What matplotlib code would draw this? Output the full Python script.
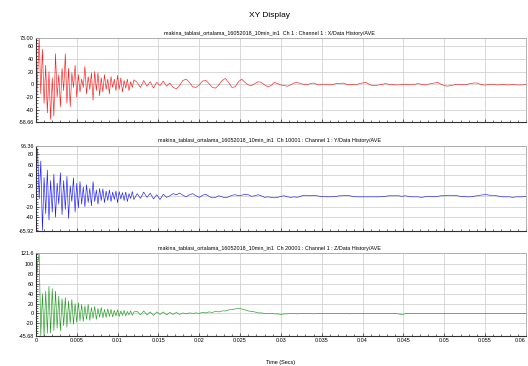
import numpy as np
import matplotlib
matplotlib.use("Agg")
import matplotlib.pyplot as plt
from matplotlib.ticker import MultipleLocator

plt.rcParams['font.family'] = ['Liberation Sans', 'DejaVu Sans']

# sample times: fine step at the start, coarser after 0.012 s
t_fast = np.arange(61) * 0.0002
t_slow = 0.0124 + np.arange(120) * 0.0004
time = np.concatenate([t_fast, t_slow])

# X channel (red)
x_fast = [-48, 10, 73, -15, 55, -30, 30, -45, 20, -55,
          10, -50, 48, -20, 15, -35, 25, -10, 48, -30,
          25, -35, 18, -5, 30, -20, 15, -12, 8, -5,
          28, -15, 12, -8, 18, -25, 20, -10, 18, -18,
          10, -12, 15, -8, 8, -15, 12, -5, 8, -10,
          14, -8, 10, -12, 6, -6, 8, -10, 4, -5, 7]
x_slow = [3, -5, 6, -3, 4, -6, 3, -2, 5, -3,
          2, -5, -7, -2, 6, 8, 3, -4, -5, -1,
          5, 6, 1, -5, -6, -1, 6, 9, 3, -5,
          -4, 4, 8, 3, -1, -2, 1, 4, 3, -1,
          -4, -2, 3, 1, -1, -2, -3, -1, 2, 3,
          1, 0, -1, 1, 2, 0, -1, 0, 0, -1,
          0, 1, 1, 2, 0, -1, 0, -1, 1, 2,
          3, 0, -2, -2, -1, 0, 1, 0, 0, -1,
          -1, 0, 0, -1, 0, 0, 1, 0, -1, 0,
          1, 2, 3, 0, -2, -3, -2, -1, 0, 0,
          -1, 0, 1, 2, 2, 0, -1, -1, 0, 0,
          -1, -1, 0, -1, -1, 0, -1, -1, -1, 0]

# Y channel (blue)
y_fast = [85, 90, -5, 67, -65, 36, -33, 50, -45, 30,
          -30, 42, -40, 25, -15, 45, -35, 30, -25, 38,
          -42, 20, -10, 35, -30, 25, -22, 28, -15, 18,
          -20, 22, -12, 15, -18, 28, -10, 12, -15, 15,
          -8, 14, -12, 10, -8, 12, -10, 8, -6, 10,
          -12, 9, -5, 7, -8, 8, -10, 5, -4, 9, -6]
y_slow = [5, -4, 8, -2, 6, -5, 3, -6, 4, -2,
          1, 5, 3, 6, 2, -1, 3, 5, 1, -2,
          2, 4, 0, -3, -2, 1, -1, -3, -1, 2,
          3, 1, 2, 4, 3, 0, 1, 3, 1, -2,
          -1, -2, -3, -2, 0, 1, -1, -2, -1, -2,
          0, 2, 2, 1, 2, 1, 0, 0, -1, -1,
          0, 0, 1, 1, 2, 1, 0, -1, -1, -1,
          -1, -1, -1, -1, -1, 0, 0, 1, 1, 1,
          1, 0, 1, 0, -1, -1, -1, -2, -1, 0,
          0, -1, 0, 1, 1, 2, 2, 2, 1, 0,
          0, -1, -1, 0, 1, 2, 3, 3, 2, 2,
          1, 0, -1, -1, -1, -2, -1, -1, -1, 0]

# Z channel (green)
z_fast = [40, 100, 121, -45, 40, -45, 45, -40, 55, -40,
          50, -35, 45, -30, 35, -35, 30, -25, 32, -28,
          25, -20, 28, -22, 20, -18, 22, -15, 18, -16,
          15, -12, 18, -14, 12, -10, 14, -12, 10, -8,
          12, -9, 8, -8, 9, -6, 8, -7, 6, -5,
          7, -6, 5, -4, 6, -5, 4, -3, 5, -4, 3]
z_slow = [4, -3, 5, -3, 3, -4, 3, -2, 3, -3,
          2, -2, 2, -2, 1, -1, 1, 0, 1, 0,
          2, 1, 3, 2, 4, 3, 5, 5, 7, 8,
          9, 10, 9, 7, 5, 4, 3, 1, 1, 0,
          0, 0, -1, -1, -2, -1, -1, 0, 0, -1,
          0, 0, 0, 0, -1, 0, 0, 0, 0, 0,
          0, 0, 0, 0, 0, -1, 0, 0, 0, 0,
          0, 0, 0, 0, 0, 0, 0, 0, 0, 0,
          -1, -2, -1, 0, 0, 0, 0, 0, 0, 0,
          0, 0, 0, 0, 0, 0, 0, 0, 0, 0,
          0, 0, 0, 0, 0, 0, 0, 0, 0, 0,
          0, 0, 0, 0, 0, 0, 0, 0, 0, 0]

titles = [
    "makina_tablasi_ortalama_16052018_10min_in1  Ch 1 : Channel 1 : X/Data History/AVE",
    "makina_tablasi_ortalama_16052018_10min_in1  Ch 10001 : Channel 1 : Y/Data History/AVE",
    "makina_tablasi_ortalama_16052018_10min_in1  Ch 20001 : Channel 1 : Z/Data History/AVE",
]
y_limits = [(-58.66, 73.00), (-65.92, 96.36), (-45.68, 121.6)]
y_limit_labels = [("-58.66", "73.00"), ("-65.92", "96.36"), ("-45.68", "121.6")]
y_ticks = [[-40, -20, 0, 20, 40, 60],
           [-40, -20, 0, 20, 40, 60, 80],
           [-20, 0, 20, 40, 60, 80, 100]]
x_ticks = [0, 0.005, 0.01, 0.015, 0.02, 0.025, 0.03, 0.035, 0.04, 0.045, 0.05, 0.055, 0.06]
x_tick_labels = ["0", "0.005", "0.01", "0.015", "0.02", "0.025", "0.03", "0.035",
                 "0.04", "0.045", "0.05", "0.055", "0.06"]

series = [x_fast + x_slow, y_fast + y_slow, z_fast + z_slow]
colors = ['#ff1a1a', '#1a1aff', '#1f9a1f']

fig = plt.figure(figsize=(5.28, 3.66), dpi=100)
fig.text(0.51, 0.958, "XY Display", ha='center', va='center', fontsize=6)

# axes boxes in figure fractions [left, bottom, width, height]
boxes = [[0.068, 0.6675, 0.928, 0.2295],
         [0.068, 0.369, 0.928, 0.233],
         [0.068, 0.082, 0.928, 0.226]]
title_y = [0.909, 0.616, 0.321]

for i in range(3):
    ax = fig.add_axes(boxes[i])
    ax.plot(time, series[i], color=colors[i], lw=0.45)
    ax.set_xlim(0, 0.06)
    lo, hi = y_limits[i]
    ax.set_ylim(lo, hi)

    ax.set_yticks([lo] + y_ticks[i] + [hi])
    ax.set_yticklabels([y_limit_labels[i][0]] + [str(v) for v in y_ticks[i]] +
                       [y_limit_labels[i][1]])
    ax.set_xticks(x_ticks)
    if i == 2:
        labels = ax.set_xticklabels(x_tick_labels)
        labels[-1].set_horizontalalignment('right')
        ax.set_xlabel("Time (Secs)", fontsize=4, labelpad=12)
    else:
        ax.set_xticklabels([])
    ax.xaxis.set_minor_locator(MultipleLocator(0.001))
    ax.yaxis.set_minor_locator(MultipleLocator(5))
    ax.tick_params(which='both', direction='in', labelsize=3.9, pad=1.5, width=0.4)
    ax.tick_params(which='major', length=2.2)
    ax.tick_params(which='minor', length=1.2)

    ax.grid(True, which='major', color='#d2d2d2', lw=0.6)
    ax.set_axisbelow(True)
    for side in ['top', 'right']:
        ax.spines[side].set_color('#a8a8a8')
        ax.spines[side].set_linewidth(0.6)
    for side in ['left', 'bottom']:
        ax.spines[side].set_color('#303030')
        ax.spines[side].set_linewidth(0.8)

    fig.text(0.511, title_y[i], titles[i], ha='center', va='center', fontsize=3.9)

fig.savefig("out.png", dpi=100)
